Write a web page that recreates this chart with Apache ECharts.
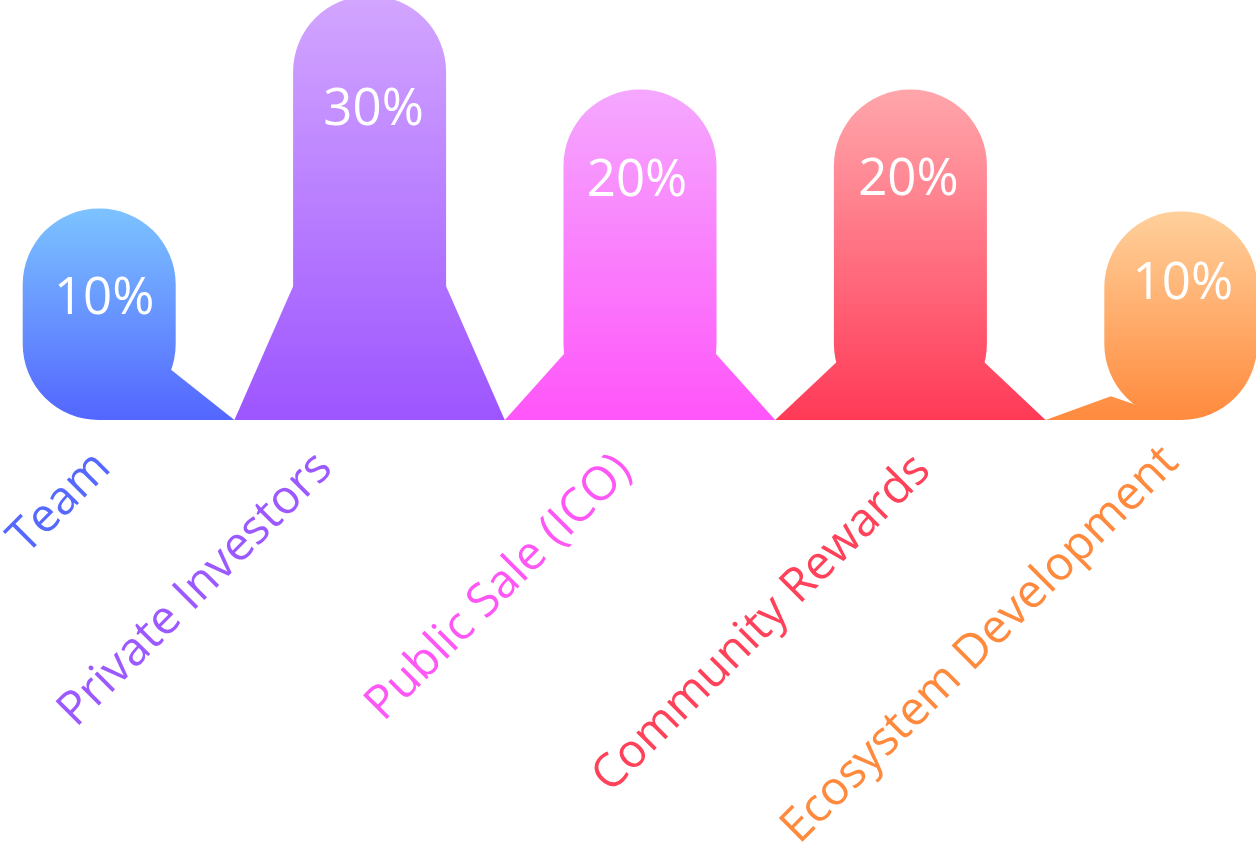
<!DOCTYPE html>
<html>
<head>
<meta charset="utf-8">
<script src="https://cdn.jsdelivr.net/npm/echarts@6/dist/echarts.min.js"></script>
<style>
html,body{margin:0;padding:0;background:#fff;}
#chart{width:1256px;height:842px;}
</style>
</head>
<body>
<div id="chart"></div>
<script>
// ---- data ----
var categories = ['Team', 'Private Investors', 'Public Sale (ICO)', 'Community Rewards', 'Ecosystem Development'];
var shares = [10, 30, 20, 20, 10];                 // percentage labels
var barHeights = [15.1, 30.3, 23.6, 23.6, 14.9];   // drawn height of the rounded bars (axis units)
var footHeights = [3.7, 10.6, 5.2, 4.4, 1.7];      // height of the flared feet (axis units)

// ---- styles ----
var topColors = ['#7CC3FF', '#D3A6FF', '#F5A8FF', '#FFA6AB', '#FFD09C'];
var bottomColors = ['#5366FF', '#9D55FF', '#FF55F9', '#FF3A57', '#FF8A3D'];
var labelColors = ['#5569FF', '#9C59FF', '#FF57F6', '#FF4159', '#FF8A3D'];
var valueLabelDx = [5, 4, -3, -2, 2];
var valueLabelDy = [2, 26, 3, 2, -15];
// per-label padding [top, right, bottom, left] to nudge the rotated category names
var catPadding = [[45, 17, 0, 0], [0, 52, 23, 0], [21, 33, 0, 0], [61, 13, 0, 0], [18, 23, 0, 0]];
var BAR_W = 153;
var INSET = 70;

var chart = echarts.init(document.getElementById('chart'));

function grad(i) {
  return new echarts.graphic.LinearGradient(0, 0, 0, 1, [
    {offset: 0, color: topColors[i]},
    {offset: 1, color: bottomColors[i]}
  ]);
}

var rich = {};
categories.forEach(function (c, i) {
  rich['c' + i] = {
    color: labelColors[i],
    fontSize: 47,
    fontFamily: 'Open Sans',
    padding: catPadding[i]
  };
});

chart.setOption({
  animation: false,
  grid: {left: -36, right: -60, top: 0, bottom: 422, containLabel: false, outerBoundsMode: 'none'},
  xAxis: {
    type: 'category',
    data: categories,
    axisLine: {show: false},
    axisTick: {show: false},
    axisLabel: {
      interval: 0,
      rotate: 45,
      margin: 12,
      fontSize: 47,
      fontFamily: 'Open Sans',
      formatter: function (v, i) { return '{c' + i + '|' + v + '}'; },
      rich: rich
    }
  },
  yAxis: {type: 'value', min: 0, max: 30, show: false},
  series: [
    {
      type: 'custom',
      z: 1,
      data: footHeights.map(function (v, i) { return [i, v]; }),
      encode: {x: 0, y: 1},
      renderItem: function (params, api) {
        var i = params.dataIndex;
        var n = categories.length;
        var base = api.coord([i, 0]);
        var cx = base[0], y0 = base[1];
        var band = api.size([1, 0])[0];
        var yv = api.coord([i, api.value(1)])[1];
        var yTop = api.coord([i, barHeights[i]])[1];
        var xL = cx - band / 2, xR = cx + band / 2;
        var pts;
        if (i === 0) pts = [[cx, y0], [cx + INSET, yv], [xR, y0]];
        else if (i === n - 1) pts = [[xL, y0], [cx - INSET, yv], [cx, y0]];
        else pts = [[xL, y0], [cx - INSET, yv], [cx + INSET, yv], [xR, y0]];
        return {
          type: 'polygon',
          shape: {points: pts},
          style: {
            fill: {
              type: 'linear', x: 0, y: yTop, x2: 0, y2: y0, global: true,
              colorStops: [{offset: 0, color: topColors[i]}, {offset: 1, color: bottomColors[i]}]
            }
          }
        };
      }
    },
    {
      type: 'bar',
      z: 2,
      clip: false,
      barWidth: BAR_W,
      data: barHeights,
      itemStyle: {
        borderRadius: 76,
        color: function (p) { return grad(p.dataIndex); }
      },
      label: {
        show: true,
        position: 'insideTop',
        distance: 63,
        color: '#fff',
        fontSize: 51,
        fontFamily: 'Open Sans',
        formatter: function (p) { return shares[p.dataIndex] + '%'; }
      },
      labelLayout: function (p) { return {dx: valueLabelDx[p.dataIndex], dy: valueLabelDy[p.dataIndex]}; }
    }
  ]
});
</script>
</body>
</html>
